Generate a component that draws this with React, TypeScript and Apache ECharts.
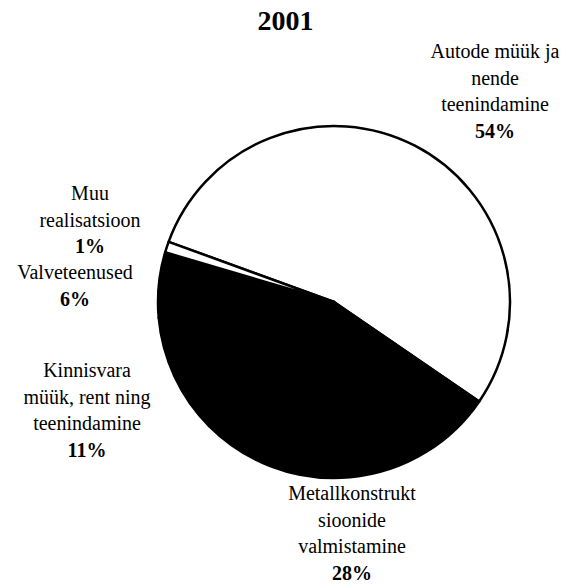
import React, { useEffect, useRef } from "react";
import * as echarts from "echarts";

const TITLE = "2001";
const categories = [
  "Autode müük ja\nnende\nteenindamine",
  "Metallkonstrukt\nsioonide\nvalmistamine",
  "Kinnisvara\nmüük, rent ning\nteenindamine",
  "Valveteenused",
  "Muu\nrealisatsioon",
];
const shares = [54, 28, 11, 6, 1];
const sliceColors = ["#ffffff", "#000000", "#000000", "#000000", "#ffffff"];
const labelAnchors: number[][] = [
  [495, 38],
  [352, 480],
  [87, 357],
  [75, 259],
  [90, 180],
];

const FONT = "'Liberation Serif', 'Times New Roman', serif";

export default function App() {
  const ref = useRef<HTMLDivElement>(null);
  useEffect(() => {
    if (!ref.current) return;
    const chart = echarts.init(ref.current, null, { renderer: "svg" });
    chart.setOption({
      animation: false,
      backgroundColor: "#ffffff",
      title: {
        text: TITLE,
        left: "center",
        top: 6,
        padding: 0,
        textStyle: { fontFamily: FONT, fontSize: 28, fontWeight: "bold", color: "#000" },
      },
      series: [
        {
          type: "pie",
          center: [334, 302],
          radius: 176,
          startAngle: 160,
          clockwise: true,
          avoidLabelOverlap: false,
          emphasis: { disabled: true },
          itemStyle: { borderColor: "#000", borderWidth: 2.5 },
          labelLine: { show: false },
          label: {
            show: true,
            position: "outside",
            color: "#000",
            fontFamily: FONT,
            formatter: (p: any) =>
              p.name
                .split("\n")
                .map((l: string) => `{n|${l}}`)
                .join("\n") + `\n{p|${p.value}%}`,
            rich: {
              n: { fontFamily: FONT, fontSize: 20, color: "#000", lineHeight: 26.5, align: "center" },
              p: { fontFamily: FONT, fontSize: 20, fontWeight: "bold", color: "#000", lineHeight: 26.5, align: "center" },
            },
          },
          labelLayout: (params: any) => {
            const a = labelAnchors[params.dataIndex];
            return { x: a[0], y: a[1], align: "center", verticalAlign: "top" };
          },
          data: categories.map((name, i) => ({
            name,
            value: shares[i],
            itemStyle: { color: sliceColors[i] },
          })),
        },
      ],
    });
    return () => chart.dispose();
  }, []);
  return (
    <div
      ref={ref}
      style={{ position: "absolute", left: 0, top: 0, width: 571, height: 586, background: "#fff" }}
    />
  );
}
